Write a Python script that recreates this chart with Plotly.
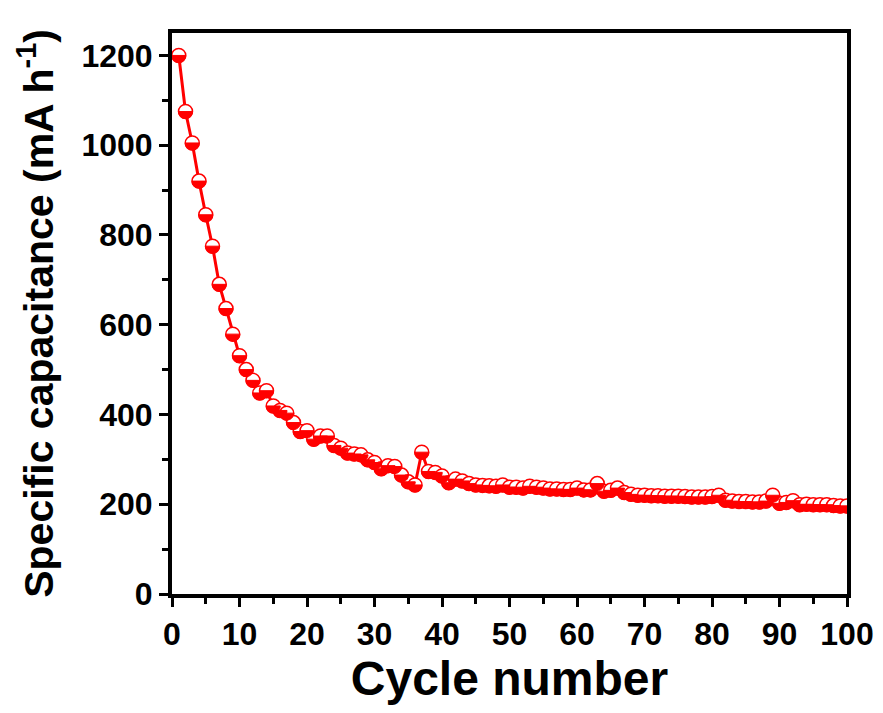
import plotly.graph_objects as go

cycles = list(range(1, 101))
capacity = [
    1200, 1075, 1005, 920, 845, 775, 690, 636, 579, 531,
    500, 476, 448, 453, 419, 409, 403, 382, 362, 364,
    345, 352, 352, 331, 325, 314, 312, 310, 299, 293,
    279, 286, 284, 265, 250, 243, 316, 273, 271, 263,
    248, 256, 252, 246, 243, 242, 241, 240, 243, 238,
    238, 236, 240, 238, 236, 234, 234, 233, 233, 236,
    232, 232, 246, 229, 231, 236, 226, 222, 220, 220,
    219, 219, 218, 218, 218, 217, 216, 216, 216, 217,
    220, 209, 207, 206, 206, 205, 205, 207, 220, 202,
    204, 208, 199, 200, 199, 199, 199, 197, 196, 196,
]

x_ticks = list(range(0, 101, 10))
y_ticks = list(range(0, 1201, 200))

red = "#ff0000"
fig = go.Figure()
fig.add_trace(go.Scatter(
    x=cycles, y=capacity, mode="lines+markers",
    line=dict(color=red, width=3),
    marker=dict(symbol="circle", size=14, color="white",
                line=dict(color=red, width=1.5)),
    showlegend=False,
))

# lower half of each marker filled red (marker style, anchored at each data point)
r = 7.0
k = 0.5523 * r
half_disk = (f"M {-r},0 C {-r},{-k} {-k},{-r} 0,{-r} "
             f"C {k},{-r} {r},{-k} {r},0 Z")
for cx, cy in zip(cycles, capacity):
    fig.add_shape(type="path", xref="x", yref="y",
                  xsizemode="pixel", ysizemode="pixel",
                  xanchor=cx, yanchor=cy, path=half_disk,
                  fillcolor=red, line=dict(color=red, width=1))

font = "Liberation Sans, Arial, sans-serif"
axis_common = dict(
    showline=True, linecolor="black", linewidth=4, mirror=True,
    ticks="outside", tickwidth=3, ticklen=9, tickcolor="black",
    showgrid=False, zeroline=False,
    tickfont=dict(family=font, size=32, color="black", weight="bold"),
)
fig.update_xaxes(
    range=[0, 100], tickvals=x_ticks, ticktext=[str(v) for v in x_ticks],
    minor=dict(ticks="outside", ticklen=6, tickwidth=3, tickcolor="black", dtick=5),
    title=dict(text="Cycle number", font=dict(family=font, size=48, color="black", weight="bold"), standoff=10),
    **axis_common,
)
fig.update_yaxes(
    range=[0, 1250], tickvals=y_ticks, ticktext=[str(v) for v in y_ticks],
    minor=dict(ticks="outside", ticklen=6, tickwidth=3, tickcolor="black", dtick=100, tick0=0),
    title=dict(text="Specific capacitance (mA h<sup>-1</sup>)", font=dict(family=font, size=41, color="black", weight="bold"), standoff=16),
    **axis_common,
)
fig.update_layout(
    width=883, height=713,
    margin=dict(l=172, r=36, t=33, b=119, autoexpand=False),
    plot_bgcolor="white", paper_bgcolor="white",
)
fig.write_html("out.html")
